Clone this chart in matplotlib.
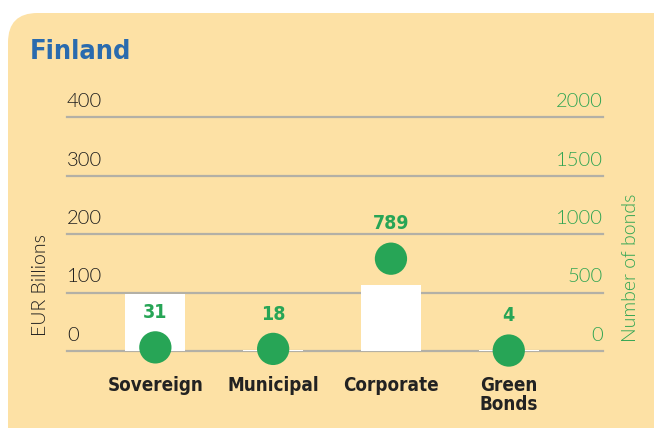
import matplotlib
matplotlib.use("Agg")
import matplotlib.pyplot as plt
from matplotlib.patches import FancyBboxPatch
import matplotlib.transforms as mtransforms

categories = ["Sovereign", "Municipal", "Corporate", "Green\nBonds"]
eur_billions = [97, 2, 113, 1]
num_bonds = [31, 18, 789, 4]
left_ticks = [0, 100, 200, 300, 400]
right_ticks = [0, 500, 1000, 1500, 2000]

BG = "#FDE1A5"
GREEN = "#27A556"
GREEN_LIGHT = "#30A552"
BLUE = "#2A6BAE"
DARK = "#1E1E1E"
GRID = "#B3B0A6"

fig = plt.figure(figsize=(6.54, 4.28), dpi=100)
fig.patch.set_facecolor("white")

box = FancyBboxPatch((8 / 654, -0.1), 1.2, (428 - 13) / 428 + 0.1,
                     boxstyle="round,pad=0,rounding_size=0.045",
                     transform=fig.transFigure, facecolor=BG, edgecolor="none",
                     zorder=-10, mutation_aspect=654 / 428)
fig.patches.append(box)

fig.text(30 / 654, 1 - 52 / 428, "Finland", color=BLUE, fontsize=19.5,
         fontweight="bold", fontstretch="condensed", family="DejaVu Sans",
         va="center", ha="left")

ax = fig.add_axes([67 / 654, (428 - 351) / 428, (603 - 67) / 654, (351 - 117) / 428])
ax.set_facecolor("none")
ax2 = ax.twinx()
ax2.set_facecolor("none")

x = list(range(len(categories)))
ax.set_xlim(-0.75, 3.8)
ax.set_ylim(0, 400)
ax2.set_ylim(0, 2000)

for v in left_ticks:
    ax.axhline(v, color=GRID, lw=1.6, zorder=1, clip_on=False)

ax.bar(x, eur_billions, width=0.51, color="white", zorder=2)

ax2.scatter(x, num_bonds, s=540, color=GREEN, zorder=5, clip_on=False,
            edgecolors="none")
for xi, n in zip(x, num_bonds):
    ax2.annotate(str(n), (xi, n), xytext=(0, 25), textcoords="offset points",
                 ha="center", va="center", color=GREEN, fontsize=14,
                 fontweight="bold", fontstretch="condensed", family="DejaVu Sans",
                 zorder=6)

for a in (ax, ax2):
    a.set_xticks([])
    a.set_yticks([])
    for s in a.spines.values():
        s.set_visible(False)

off = mtransforms.offset_copy(ax.transData, fig=fig, x=0, y=7, units="dots")
for v in left_ticks:
    ax.text(-0.75, v, str(v), transform=off, ha="left", va="bottom",
            color=DARK, fontsize=14.5, family="Lato", fontweight=300)
off2 = mtransforms.offset_copy(ax2.transData, fig=fig, x=0, y=7, units="dots")
for v in right_ticks:
    ax2.text(3.8, v, str(v), transform=off2, ha="right", va="bottom",
             color=GREEN_LIGHT, fontsize=14.5, family="Lato", fontweight=300)

fig.text(41 / 654, 1 - 285 / 428, "EUR Billions", rotation=90, ha="center",
         va="center", color=DARK, fontsize=14, family="Lato", fontweight=300)
fig.text(631 / 654, 1 - 268 / 428, "Number of bonds", rotation=90, ha="center",
         va="center", color=GREEN_LIGHT, fontsize=14, family="Lato", fontweight=300)

lab_off = mtransforms.offset_copy(ax.transData, fig=fig, x=0, y=-25, units="dots")
for xi, c in zip(x, categories):
    ax.text(xi, 0, c, transform=lab_off,
            ha="center", va="top", color="#222222", fontsize=13.5,
            fontweight="bold", fontstretch="condensed", family="DejaVu Sans",
            linespacing=1.0)

fig.savefig("out.png", dpi=100, facecolor=fig.get_facecolor())
